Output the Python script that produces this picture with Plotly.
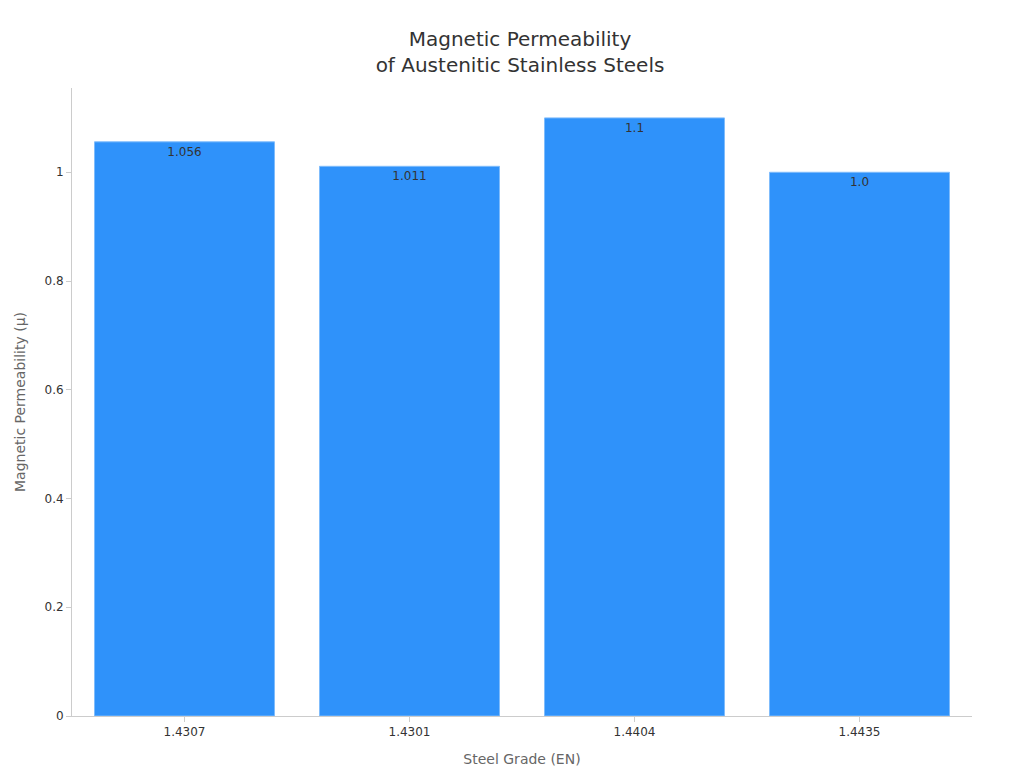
import plotly.graph_objects as go

grades = ["1.4307", "1.4301", "1.4404", "1.4435"]
permeability = [1.056, 1.011, 1.1, 1.0]
labels = ["1.056", "1.011", "1.1", "1.0"]

fig = go.Figure()
fig.add_trace(go.Bar(
    x=grades, y=permeability, text=labels, textposition="inside",
    insidetextanchor="end", textfont=dict(color="#333333", size=12),
    marker=dict(color="#2f92fa", line=dict(color="#7fbcfc", width=1)),
))

fig.update_layout(
    width=1024, height=768,
    title=dict(text="Magnetic Permeability<br>of Austenitic Stainless Steels",
               x=0.5, y=0.95, font=dict(size=20, color="#333333")),
    font=dict(family="DejaVu Sans", color="#333333", size=12),
    plot_bgcolor="white", paper_bgcolor="white",
    margin=dict(l=64, r=60, t=80, b=60),
    bargap=0.2,
    xaxis=dict(title=dict(text="Steel Grade (EN)", font=dict(color="#666666", size=14)),
               showline=True, linecolor="#cccccc", ticks="outside", tickcolor="#cccccc"),
    yaxis=dict(title=dict(text="Magnetic Permeability (μ)", font=dict(color="#666666", size=14)),
               showline=True, linecolor="#cccccc", showgrid=False, zeroline=False,
               ticks="outside", tickcolor="#cccccc", range=[0, 1.155],
               tickvals=[0, 0.2, 0.4, 0.6, 0.8, 1], ticktext=["0", "0.2", "0.4", "0.6", "0.8", "1"]),
)

fig.write_html("out.html")
